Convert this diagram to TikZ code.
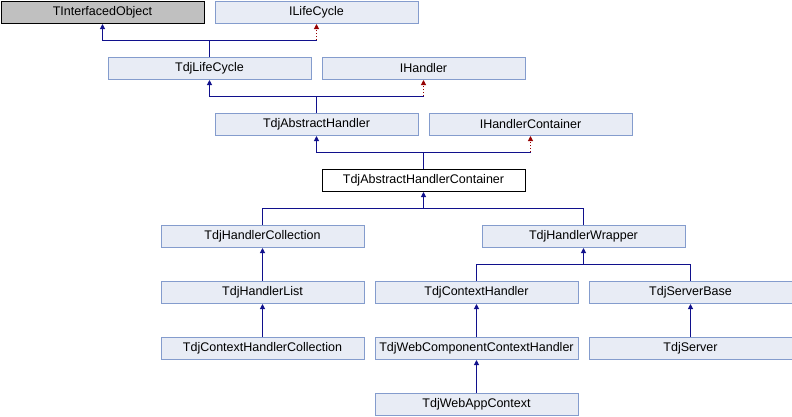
\documentclass[tikz,border=0pt]{standalone}
\usepackage{fontspec}
\setmainfont{Liberation Sans}
\usetikzlibrary{arrows.meta}
\definecolor{boxfill}{RGB}{232,236,245}
\definecolor{boxline}{RGB}{132,156,205}
\definecolor{inhblue}{RGB}{16,16,140}
\definecolor{impred}{RGB}{150,0,0}
\begin{document}
\begin{tikzpicture}[x=1pt, y=1pt,
    cls/.style={draw=boxline, fill=boxfill, line width=1pt, minimum width=203pt,
        minimum height=22.5pt, inner sep=0pt, anchor=north west,
        font=\fontsize{12.5}{14}\selectfont},
    ext/.style={cls, draw=black, fill={rgb,255:red,192;green,192;blue,192}},
    cur/.style={cls, draw=black, fill=white},
    line/.style={draw=inhblue, line width=1pt},
    inh/.style={line, -{Triangle[length=5pt, width=5pt]}},
    impl/.style={draw=impred, line width=1pt, dotted, -{Triangle[length=5pt, width=5pt]}}]
        \useasboundingbox (0,0) rectangle (792,-416);

        % Nodes
        \node[ext] (TInterfacedObject) at (0.5, -0.5) {TInterfacedObject};
        \node[cls] (ILifeCycle) at (214.5, -0.5) {ILifeCycle};
        \node[cls] (TdjLifeCycle) at (107.5, -56.5) {TdjLifeCycle};
        \node[cls] (IHandler) at (321.5, -56.5) {IHandler};
        \node[cls] (TdjAbstractHandler) at (214.5, -112.5) {TdjAbstractHandler};
        \node[cls] (IHandlerContainer) at (428.5, -112.5) {IHandlerContainer};
        \node[cur] (TdjAbstractHandlerContainer) at (321.5, -168.5) {TdjAbstractHandlerContainer};
        \node[cls] (TdjHandlerCollection) at (160.5, -224.5) {TdjHandlerCollection};
        \node[cls] (TdjHandlerWrapper) at (481.5, -224.5) {TdjHandlerWrapper};
        \node[cls] (TdjHandlerList) at (160.5, -280.5) {TdjHandlerList};
        \node[cls] (TdjContextHandler) at (374.5, -280.5) {TdjContextHandler};
        \node[cls] (TdjServerBase) at (588.5, -280.5) {TdjServerBase};
        \node[cls] (TdjContextHandlerCollection) at (160.5, -336.5) {TdjContextHandlerCollection};
        \node[cls] (TdjWebComponentContextHandler) at (374.5, -336.5) {TdjWebComponentContextHandler};
        \node[cls] (TdjServer) at (588.5, -336.5) {TdjServer};
        \node[cls] (TdjWebAppContext) at (374.5, -392.5) {TdjWebAppContext};

        % Bus points
        \path (TdjLifeCycle.north) ++(0, 16.5) coordinate (BusLifeCycle);
        \path (TdjAbstractHandler.north) ++(0, 16.5) coordinate (BusHandler);
        \path (TdjAbstractHandlerContainer.north) ++(0, 16.5) coordinate (BusContainer);
        \path (TdjAbstractHandlerContainer.south) ++(0, -16.5) coordinate (BusChildren);
        \path (TdjHandlerWrapper.south) ++(0, -16.5) coordinate (BusWrapper);

        % Arrows
        \draw[inh] (TdjLifeCycle.north) -- (BusLifeCycle) -| (TInterfacedObject.south);
        \draw[line] (BusLifeCycle) -- (BusLifeCycle -| ILifeCycle.south);
        \draw[impl] (BusLifeCycle -| ILifeCycle.south) -- (ILifeCycle.south);

        \draw[inh] (TdjAbstractHandler.north) -- (BusHandler) -| (TdjLifeCycle.south);
        \draw[line] (BusHandler) -- (BusHandler -| IHandler.south);
        \draw[impl] (BusHandler -| IHandler.south) -- (IHandler.south);

        \draw[inh] (TdjAbstractHandlerContainer.north) -- (BusContainer) -| (TdjAbstractHandler.south);
        \draw[line] (BusContainer) -- (BusContainer -| IHandlerContainer.south);
        \draw[impl] (BusContainer -| IHandlerContainer.south) -- (IHandlerContainer.south);

        \draw[line] (TdjHandlerCollection.north) |- (BusChildren) -| (TdjHandlerWrapper.north);
        \draw[inh] (BusChildren) -- (TdjAbstractHandlerContainer.south);

        \draw[line] (TdjContextHandler.north) |- (BusWrapper) -| (TdjServerBase.north);
        \draw[inh] (BusWrapper) -- (TdjHandlerWrapper.south);

        \draw[inh] (TdjHandlerList) -- (TdjHandlerCollection);
        \draw[inh] (TdjContextHandlerCollection) -- (TdjHandlerList);
        \draw[inh] (TdjWebComponentContextHandler) -- (TdjContextHandler);
        \draw[inh] (TdjServer) -- (TdjServerBase);
        \draw[inh] (TdjWebAppContext) -- (TdjWebComponentContextHandler);
    \end{tikzpicture}
\end{document}
